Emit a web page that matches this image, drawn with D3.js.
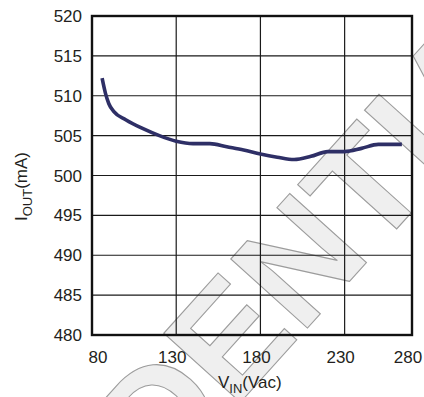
<!DOCTYPE html>
<html>
<head>
<meta charset="utf-8">
<script src="https://cdn.jsdelivr.net/npm/d3@7"></script>
<style>
body{margin:0;background:#fff}
text{font-family:"Liberation Sans",Arial,sans-serif;fill:#231f20}
</style>
</head>
<body>
<svg id="chart" width="424" height="397"></svg>
<script>
// values
var vin  = [86, 88, 90, 93, 100, 110, 120, 130, 140, 150, 160, 170, 180, 190, 200, 210, 220, 230, 240, 250, 264];
var iout = [512.2, 510.3, 509.0, 508.0, 507.0, 505.9, 505.0, 504.3, 504.0, 504.0, 503.6, 503.2, 502.7, 502.3, 502.0, 502.4, 503.0, 503.0, 503.4, 503.9, 503.9];
var xTicks = [80, 130, 180, 230, 280];
var yTicks = [480, 485, 490, 495, 500, 505, 510, 515, 520];

var svg = d3.select("#chart");
var plotL = 92, plotR = 412, plotT = 16, plotB = 335;

var x = d3.scaleLinear().domain([80, 270]).range([plotL, plotR]);
var y = d3.scaleLinear().domain([480, 520]).range([plotB, plotT]);

// watermark behind everything
var wm = svg.append("g");
[[-151, 837], [42, 1022]].forEach(function(o){
	wm.append("text")
		.attr("transform", "translate(" + o[0] + "," + o[1] + ") rotate(-48)")
		.attr("font-size", 150).attr("font-weight", "bold")
		.style("fill", "#efefef").style("stroke", "#9c9c9c").style("stroke-width", 1.1)
		.text("CONFIDENTIAL");
});

// grid
svg.append("g").selectAll("line").data(yTicks.slice(1, -1)).enter().append("line")
	.attr("x1", plotL).attr("x2", plotR)
	.attr("y1", function(d){ return y(d); }).attr("y2", function(d){ return y(d); })
	.attr("stroke", "#1a1a1a").attr("stroke-width", 1.2);
svg.append("g").selectAll("line").data(xTicks.filter(function(d){ return d > 80 && d < 270; })).enter().append("line")
	.attr("y1", plotT).attr("y2", plotB)
	.attr("x1", function(d){ return x(d); }).attr("x2", function(d){ return x(d); })
	.attr("stroke", "#1a1a1a").attr("stroke-width", 1.2);

// frame
svg.append("rect").attr("x", plotL).attr("y", plotT)
	.attr("width", plotR - plotL).attr("height", plotB - plotT)
	.attr("fill", "none").attr("stroke", "#111").attr("stroke-width", 2.4);

// curve
var pts = vin.map(function(v, i){ return [v, iout[i]]; });
svg.append("path").datum(pts)
	.attr("fill", "none").attr("stroke", "#2e2f66").attr("stroke-width", 3.6)
	.attr("stroke-linejoin", "round").attr("stroke-linecap", "butt")
	.attr("d", d3.line().x(function(d){ return x(d[0]); }).y(function(d){ return y(d[1]); }).curve(d3.curveMonotoneX));

// y tick labels
svg.append("g").selectAll("text").data(yTicks).enter().append("text")
	.attr("x", 82).attr("y", function(d){ return y(d) + 6; })
	.attr("text-anchor", "end").attr("font-size", 17)
	.text(function(d){ return d; });

// x tick labels (squeezed inside the frame like the original)
svg.append("g").selectAll("text").data(xTicks).enter().append("text")
	.attr("x", function(d){ return Math.max(98, Math.min(408, x(d) - 4)); })
	.attr("y", 363).attr("text-anchor", "middle").attr("font-size", 17)
	.text(function(d){ return d; });

// axis titles
var xt = svg.append("text").attr("x", 218).attr("y", 388).attr("font-size", 17);
xt.append("tspan").text("V");
xt.append("tspan").attr("dy", 5).attr("font-size", 13).text("IN");
xt.append("tspan").attr("dy", -5).text("(Vac)");

var yt = svg.append("text").attr("transform", "translate(27,221) rotate(-90)").attr("font-size", 17);
yt.append("tspan").text("I");
yt.append("tspan").attr("dy", 5).attr("font-size", 13).text("OUT");
yt.append("tspan").attr("dy", -5).text("(mA)");
</script>
</body>
</html>
